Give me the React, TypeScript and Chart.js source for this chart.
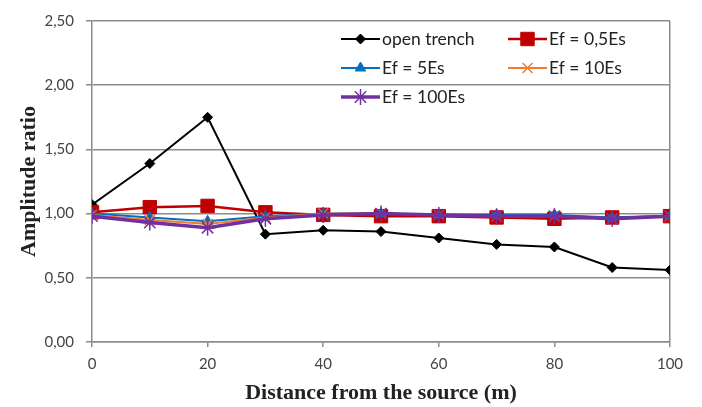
import React, { useEffect, useRef } from "react";
import { Chart, registerables } from "chart.js";
import { drawPoint } from "chart.js/helpers";

Chart.register(...registerables);

const distances = [0, 10, 20, 30, 40, 50, 60, 70, 80, 90, 100];
const openTrench = [1.07, 1.39, 1.75, 0.84, 0.87, 0.86, 0.81, 0.76, 0.74, 0.58, 0.56];
const ef05 = [1.01, 1.05, 1.06, 1.01, 0.99, 0.98, 0.98, 0.97, 0.96, 0.97, 0.98];
const ef5 = [1.0, 0.97, 0.94, 0.98, 1.0, 1.0, 0.99, 0.99, 0.99, 0.97, 0.98];
const ef10 = [0.99, 0.95, 0.92, 0.97, 1.0, 1.0, 0.99, 0.98, 0.98, 0.96, 0.98];
const ef100 = [0.98, 0.93, 0.89, 0.96, 0.99, 1.0, 0.99, 0.98, 0.98, 0.96, 0.98];
const seriesLabels = ["open trench", "Ef = 0,5Es", "Ef = 5Es", "Ef = 10Es", "Ef = 100Es"];
const xTitle = "Distance from the source (m)";
const yTitle = "Amplitude ratio";

const TICK_FONT = "Lato, 'Open Sans', sans-serif";
const TITLE_FONT = "'Liberation Serif', 'DejaVu Serif', serif";

const pts = (vals: number[]) => distances.map((x, i) => ({ x, y: vals[i] }));

const legendPlugin = {
  id: "insideLegend",
  afterDraw(chart: any) {
    const ctx = chart.ctx;
    const positions = [
      [341, 39],
      [508, 39],
      [341, 68],
      [508, 68],
      [341, 97],
    ];
    chart.data.datasets.forEach((ds: any, i: number) => {
      const [x, y] = positions[i];
      ctx.save();
      ctx.strokeStyle = ds.borderColor;
      ctx.lineWidth = ds.borderWidth;
      ctx.beginPath();
      ctx.moveTo(x, y);
      ctx.lineTo(x + 39, y);
      ctx.stroke();
      ctx.fillStyle = ds.pointBackgroundColor;
      ctx.strokeStyle = ds.pointBorderColor;
      ctx.lineWidth = ds.pointBorderWidth;
      drawPoint(
        ctx,
        { pointStyle: ds.pointStyle, rotation: 0, radius: ds.pointRadius, borderWidth: ds.pointBorderWidth },
        x + 19.5,
        y
      );
      ctx.fillStyle = "#222";
      ctx.font = `17.5px ${TICK_FONT}`;
      ctx.textBaseline = "middle";
      ctx.textAlign = "left";
      ctx.fillText(ds.label, x + 41, y);
      ctx.restore();
    });
  },
};

export default function App() {
  const ref = useRef<HTMLCanvasElement>(null);
  useEffect(() => {
    if (!ref.current) return;
    const mk = (
      label: string,
      data: number[],
      color: string,
      style: string,
      radius: number,
      width: number,
      order: number,
      pbw = 1
    ) => ({
      label,
      data: pts(data),
      borderColor: color,
      backgroundColor: color,
      pointBackgroundColor: color,
      pointBorderColor: color,
      pointBorderWidth: pbw,
      borderWidth: width,
      pointStyle: style,
      pointRadius: radius,
      pointHoverRadius: radius,
      tension: 0,
      order,
    });
    const chart = new Chart(ref.current, {
      type: "line",
      data: {
        datasets: [
          mk(seriesLabels[0], openTrench, "#000000", "rectRot", 5, 2, 5),
          mk(seriesLabels[1], ef05, "#C00000", "rect", 9.5, 2.5, 4),
          mk(seriesLabels[2], ef5, "#0070C0", "triangle", 6, 2, 3),
          mk(seriesLabels[3], ef10, "#ED7D31", "crossRot", 7, 2, 2, 1.5),
          mk(seriesLabels[4], ef100, "#7030A0", "star", 8, 3.5, 1, 1.5),
        ] as any,
      },
      options: {
        animation: false,
        responsive: false,
        maintainAspectRatio: false,
        layout: { padding: { left: 0, right: 32, top: 18, bottom: 0 } },
        plugins: { legend: { display: false }, tooltip: { enabled: false } },
        scales: {
          x: {
            type: "linear",
            min: 0,
            max: 100,
            ticks: {
              stepSize: 20,
              color: "#444",
              font: { family: TICK_FONT, size: 15 },
              padding: 8,
              maxRotation: 0,
            },
            grid: {
              color: (c: any) => (c.tick && c.tick.value === 100 ? "#8c8c8c" : "rgba(0,0,0,0)"),
              tickColor: "#8c8c8c",
              tickLength: 5,
              lineWidth: 1.5,
            },
            border: { color: "#8c8c8c", width: 1.5 },
            title: {
              display: true,
              text: xTitle,
              color: "#222",
              font: { family: TITLE_FONT, size: 22, weight: "bold" },
              padding: { top: 2, bottom: 0 },
            },
            afterFit: (s: any) => {
              s.height = 65;
            },
          },
          y: {
            min: 0,
            max: 2.5,
            ticks: {
              stepSize: 0.5,
              color: "#444",
              font: { family: TICK_FONT, size: 15 },
              padding: 12,
              callback: (v: any) => Number(v).toFixed(2).replace(".", ","),
            },
            grid: {
              color: "#8c8c8c",
              tickColor: "#8c8c8c",
              tickLength: 6,
              lineWidth: 1.5,
            },
            border: { color: "#8c8c8c", width: 1.5 },
            title: {
              display: true,
              text: yTitle,
              color: "#222",
              font: { family: TITLE_FONT, size: 22, weight: "bold" },
              padding: { top: 16, bottom: 2 },
            },
            afterFit: (s: any) => {
              s.width = 92;
            },
          },
        },
      },
      plugins: [legendPlugin],
    });
    return () => chart.destroy();
  }, []);
  return (
    <div style={{ position: "fixed", left: 0, top: 0, width: 702, height: 407, background: "#fff" }}>
      <canvas ref={ref} width={702} height={407} style={{ width: 702, height: 407 }} />
    </div>
  );
}
